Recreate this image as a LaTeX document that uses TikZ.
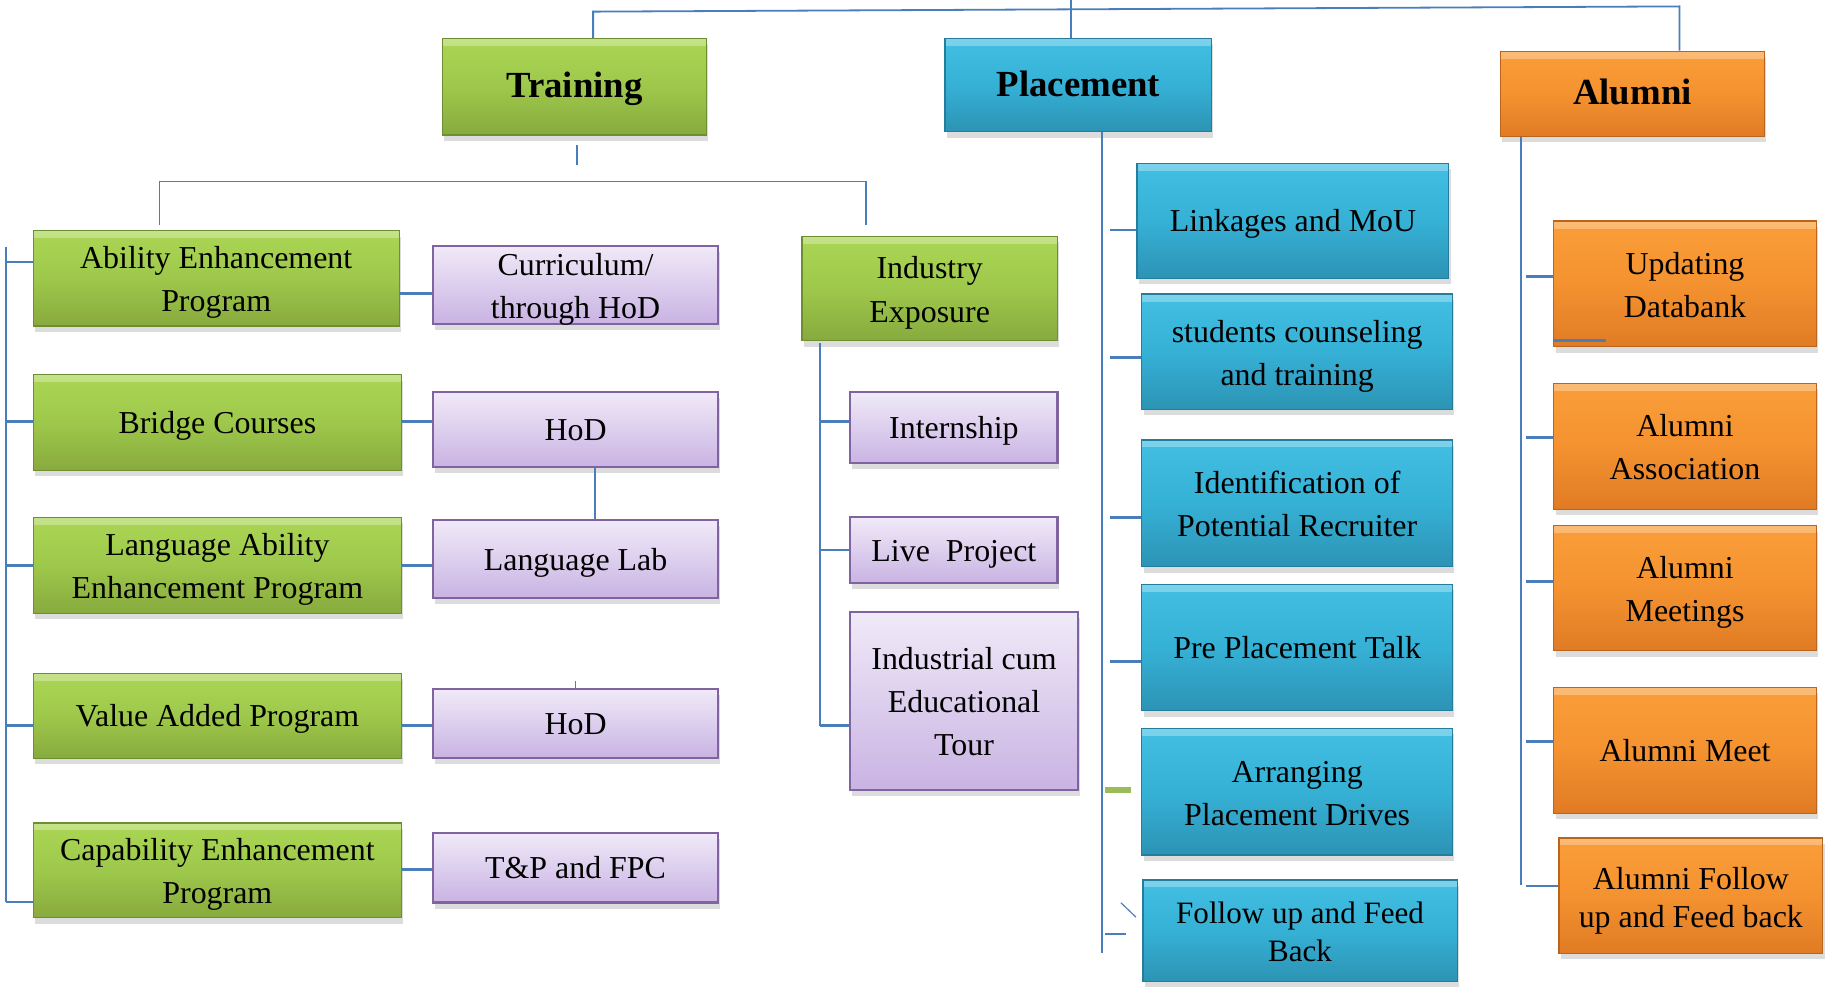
\documentclass[tikz,border=0pt]{standalone}
\usepackage{fontspec}
\setmainfont{Liberation Serif}
\usepackage{tikz}
\usetikzlibrary{shadows}

\definecolor{linkblue}{HTML}{4A7EBB}
\definecolor{grnA}{HTML}{ABD654}
\definecolor{grnB}{HTML}{9EC84B}
\definecolor{grnC}{HTML}{88AA3E}
\definecolor{grnline}{HTML}{6E8E32}
\definecolor{bluA}{HTML}{42BFE2}
\definecolor{bluB}{HTML}{36B1D6}
\definecolor{bluC}{HTML}{2C93B4}
\definecolor{bluline}{HTML}{257C9B}
\definecolor{orgA}{HTML}{FA9E38}
\definecolor{orgB}{HTML}{F49230}
\definecolor{orgC}{HTML}{E07B24}
\definecolor{orgline}{HTML}{B9651D}
\definecolor{prpA}{HTML}{F0EAF8}
\definecolor{prpB}{HTML}{C9B3E3}
\definecolor{prpline}{HTML}{8064A2}
\definecolor{tickgreen}{HTML}{9BBB59}

\begin{document}
\begin{tikzpicture}[x=0.25mm,y=-0.25mm,
    every node/.style={font=\fontsize{19.5}{26.3}\selectfont, align=center, inner sep=0pt,
        execute at begin node={\rule{0pt}{20pt}}, execute at end node={\rule[-6.5pt]{0pt}{0pt}}},
    sz/.style 2 args={minimum width=#1*0.25mm, minimum height=#2*0.25mm},
    two/.style={text height=44pt, text depth=3pt},
    three/.style={text height=72.7pt, text depth=6pt},
    box/.style={draw, line width=0.8pt, drop shadow={shadow xshift=0.4mm, shadow yshift=-1.3mm, opacity=0.28}},
    bevel/.style={path picture={\fill[white, opacity=0.3] (path picture bounding box.north west) rectangle ([yshift=-1.6mm]path picture bounding box.north east);}},
    grn/.style={box, bevel, draw=grnline, top color=grnA, bottom color=grnC, middle color=grnB},
    blu/.style={box, bevel, draw=bluline, top color=bluA, bottom color=bluC, middle color=bluB},
    org/.style={box, bevel, draw=orgline, top color=orgA, bottom color=orgC, middle color=orgB},
    prp/.style={box, draw=prpline, line width=1.3pt, top color=prpA, bottom color=prpB},
    head/.style={font=\fontsize{22.5}{27}\selectfont\bfseries},
    link/.style={draw=linkblue, line width=1.1pt},
    tick/.style={draw=linkblue, line width=1.5pt}]

    \useasboundingbox (0,0) rectangle (1568,848);

    %%%%%%%%%%%%%%%%%%%% heads
    \node[grn, head, sz={227}{83}] (T) at (493.5,74.5) {Training};
    \node[blu, head, sz={229}{80}] (P) at (926.5,73) {Placement};
    \node[org, head, sz={227}{73}] (A) at (1402.5,80.5) {Alumni};

    %%%%%%%%%%%%%%%%%%%% training
    \node[grn, two, sz={314.5}{82}] (T1) at (185.75,239) {Ability Enhancement\\Program};
    \node[prp, two, sz={245}{67}] (H1) at (494.5,244.5) {Curriculum/\\through HoD};
    \node[grn, sz={316.5}{82}] (T2) at (186.75,363) {Bridge Courses};
    \node[prp, sz={245}{64}] (H2) at (494.5,369) {HoD};
    \node[grn, two, sz={316.5}{82.5}] (T3) at (186.75,485.75) {Language Ability\\Enhancement Program};
    \node[prp, sz={245}{67}] (H3) at (494.5,480.5) {Language Lab};
    \node[grn, sz={316.5}{73}] (T4) at (186.75,615) {Value Added Program};
    \node[prp, sz={245}{59}] (H4) at (494.5,621.5) {HoD};
    \node[grn, two, sz={316.5}{81.5}] (T5) at (186.75,747.75) {Capability Enhancement\\Program};
    \node[prp, sz={245}{60}] (H5) at (494.5,745.4) {T\&P and FPC};

    \node[grn, two, sz={219.6}{89.7}] (I) at (798.8,247.85) {Industry\\Exposure};
    \node[prp, sz={178}{61.5}] (I1) at (819.55,367.25) {Internship};
    \node[prp, sz={178}{56.5}] (I2) at (819.55,472.75) {Live~ Project};
    \node[prp, three, sz={195.5}{152.8}] (I3) at (828.25,602.4) {Industrial cum\\Educational\\Tour};

    %%%%%%%%%%%%%%%%%%%% placement
    \node[blu, sz={267.7}{98.7}] (P1) at (1110.85,189.65) {Linkages and MoU};
    \node[blu, two, sz={267}{99}] (P2) at (1114.5,302.15) {students counseling\\and training};
    \node[blu, two, sz={267}{109}] (P3) at (1114.5,432.5) {Identification of\\Potential Recruiter};
    \node[blu, sz={267}{108.6}] (P4) at (1114.5,556.3) {Pre Placement Talk};
    \node[blu, two, sz={267}{108.8}] (P5) at (1114.5,680.2) {Arranging\\Placement Drives};
    \node[blu, sz={270}{87.4}, font=\fontsize{19}{23.5}\selectfont, text height=44pt, text depth=6pt] (P6) at (1117,799.7) {Follow up and Feed\\Back};

    %%%%%%%%%%%%%%%%%%%% alumni
    \node[org, two, sz={225.5}{108}] (A1) at (1447.75,244) {Updating\\Databank};
    \node[org, two, sz={225.5}{108.2}] (A2) at (1447.75,383.5) {Alumni\\Association};
    \node[org, two, sz={225.5}{107.3}] (A3) at (1447.75,505.35) {Alumni\\Meetings};
    \node[org, sz={225.5}{108.3}] (A4) at (1447.75,644.65) {Alumni Meet};
    \node[org, sz={226.5}{99}, font=\fontsize{19.5}{23.5}\selectfont, text height=45pt, text depth=6pt] (A5) at (1452.75,769.5) {Alumni Follow\\up and Feed back};

    %%%%%%%%%%%%%%%%%%%% top line
    \coordinate (TL) at (509.6,10);
    \coordinate (TR) at (1443,5.5);
    \coordinate (PT) at (920,0);
    \draw[link] (T.north -| TL) -- (TL) -- (TR) -- (A.north -| TR);
    \draw[link] (PT) -- (P.north -| PT);

    %%%%%%%%%%%%%%%%%%%% training tree
    \coordinate (TB) at (496,125);
    \draw[link] (TB) -- ++(0,17);
    \coordinate (BL) at (137,156);
    \coordinate (BR) at (744,156);
    \coordinate (BL1) at (137,193);
    \coordinate (BR1) at (744,193);
    \draw[link] (BL1) -- (BL) -- (BR) -- (BR1);

    \coordinate (LB) at (5,212);
    \coordinate (LE) at (5,775);
    \draw[link] (LB) -- (LE);
    \foreach \n/\y in {T1/225, T2/362, T3/486, T4/623.5, T5/775}
        \draw[tick] (LB |- 0,\y) -- (\n.west |- 0,\y);

    \foreach \a/\b/\y in {T1/H1/252, T2/H2/362, T3/H3/486, T4/H4/623.5, T5/H5/747}
        \draw[tick] (\a.east |- 0,\y) -- (\b.west |- 0,\y);

    \draw[link] (511,0 |- H2.south) -- (511,0 |- H3.north);
    \draw[link] (H4.north) -- ++(0,-6);

    \coordinate (IB) at (704.3,295);
    \coordinate (IE) at (704.3,623.5);
    \draw[link] (IB) -- (IE);
    \foreach \n/\y in {I1/362, I2/472.5, I3/623.5}
        \draw[tick] (IB |- 0,\y) -- (\n.west |- 0,\y);

    %%%%%%%%%%%%%%%%%%%% placement tree
    \coordinate (PB) at (947,113);
    \coordinate (PE) at (947,819);
    \coordinate (PK) at (954,113);
    \draw[link] (P.south -| PB) -- (PE);
    \foreach \n/\y in {P1/197.6, P2/307.3, P3/444.8, P4/568.5}
        \draw[tick] (PK |- 0,\y) -- (\n.west |- 0,\y);
    \coordinate (G1) at (949.7,678.8);
    \draw[draw=tickgreen, line width=3.5pt] (G1) -- ++(22,0);
    \coordinate (D1) at (963,775.6);
    \draw[link, line width=0.7pt] (D1) -- ++(13,12.4);
    \coordinate (F1) at (949.7,802.5);
    \draw[tick] (F1) -- ++(18,0);

    %%%%%%%%%%%%%%%%%%%% alumni tree
    \coordinate (AB) at (1306.5,116);
    \coordinate (AE) at (1306.5,760.4);
    \coordinate (AK) at (1311,116);
    \draw[link] (A.south -| AB) -- (AE);
    \foreach \n/\y in {A1/237.7, A2/376, A3/499.8, A4/637, A5/761}
        \draw[tick] (AK |- 0,\y) -- (\n.west |- 0,\y);
    \draw[tick] (A1.west |- 0,292.7) -- ++(45,0);

\end{tikzpicture}
\end{document}
